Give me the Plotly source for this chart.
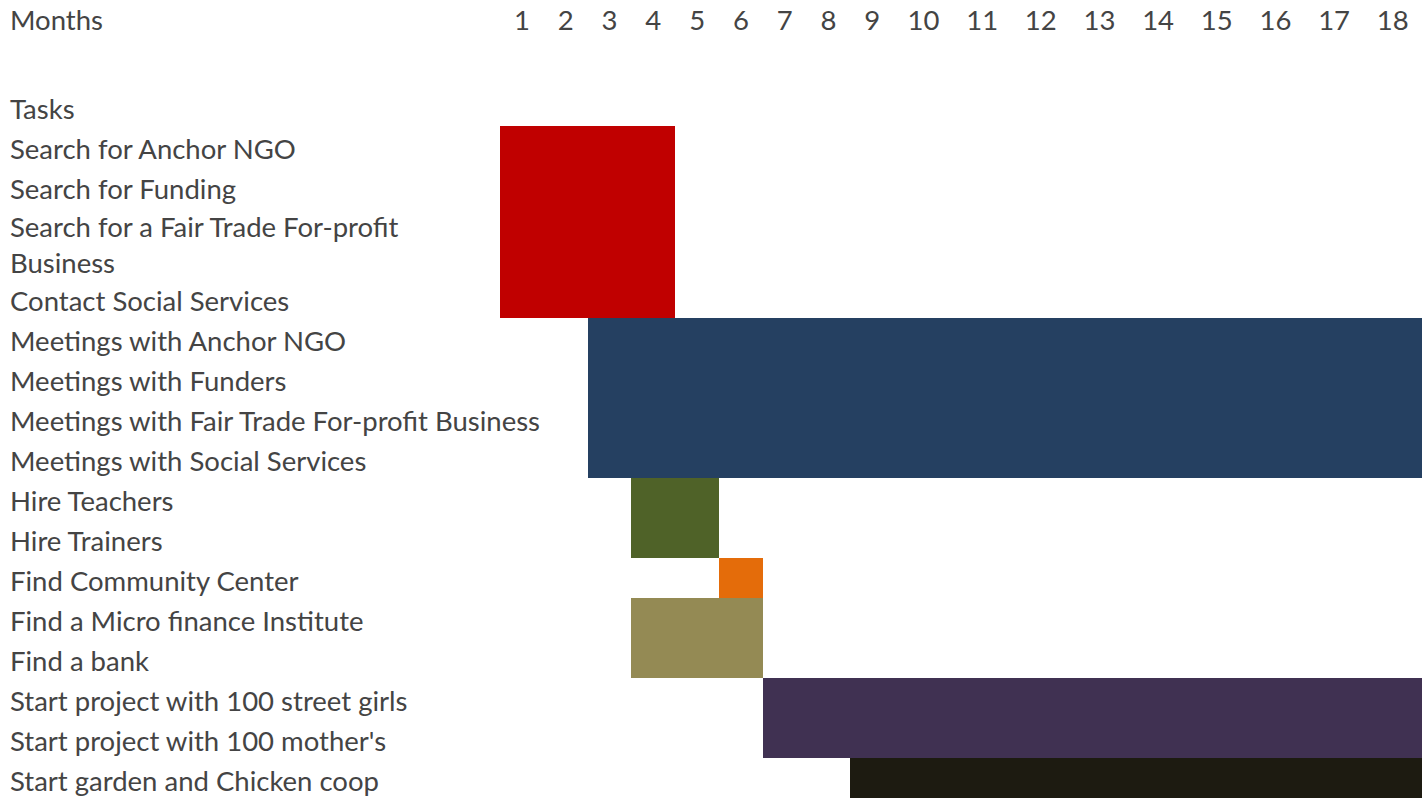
import plotly.graph_objects as go

# ---------------- data ----------------
months = [str(m) for m in range(1, 19)]

tasks = [
    "Search for Anchor NGO",
    "Search for Funding",
    "Search for a Fair Trade For-profit<br>Business",
    "Contact Social Services",
    "Meetings with Anchor NGO",
    "Meetings with Funders",
    "Meetings with Fair Trade For-profit Business",
    "Meetings with Social Services",
    "Hire Teachers",
    "Hire Trainers",
    "Find Community Center",
    "Find a Micro finance Institute",
    "Find a bank",
    "Start project with 100 street girls",
    "Start project with 100 mother's",
    "Start garden and Chicken coop",
]
start_month = [1, 1, 1, 1, 3, 3, 3, 3, 4, 4, 6, 4, 4, 7, 7, 9]
end_month = [4, 4, 4, 4, 18, 18, 18, 18, 5, 5, 6, 6, 6, 18, 18, 18]

header_labels = ["Months", "", "Tasks"]

# ---------------- styles / layout ----------------
bar_colors = [
    "#C00000", "#C00000", "#C00000", "#C00000",
    "#254061", "#254061", "#254061", "#254061",
    "#4F6228", "#4F6228",
    "#E46C0A",
    "#948A54", "#948A54",
    "#403152", "#403152",
    "#1D1B11",
]

W, H = 1424, 799
FONT = "Lato"
FSIZE = 27.5

first_col_x = 500
col_widths = [43.8] * 9 + [58.65] * 9
col_edges = [first_col_x]
for w in col_widths:
    col_edges.append(col_edges[-1] + w)
col_centers = [(col_edges[i] + col_edges[i + 1]) / 2 for i in range(len(col_widths))]

header_heights = [34, 52, 40]
task_heights = [72 if "<br>" in t else 40 for t in tasks]
row_heights = header_heights + task_heights
row_edges = [0]
for h in row_heights:
    row_edges.append(row_edges[-1] + h)
row_centers = [(row_edges[i] + row_edges[i + 1]) / 2 for i in range(len(row_heights))]
task_centers = row_centers[len(header_heights):]

LABEL_SHIFT = 3

bar_base = [col_edges[s - 1] for s in start_month]
bar_len = [col_edges[e] - col_edges[s - 1] for s, e in zip(start_month, end_month)]

fig = go.Figure(
    go.Bar(
        orientation="h",
        y=task_centers,
        x=bar_len,
        base=bar_base,
        width=task_heights,
        marker=dict(color=bar_colors, line=dict(width=0)),
        hovertext=tasks,
        showlegend=False,
    )
)

label_vals = [c + LABEL_SHIFT for c in row_centers]
label_text = header_labels + tasks

fig.update_layout(
    width=W,
    height=H,
    margin=dict(l=0, r=0, t=0, b=0),
    paper_bgcolor="white",
    plot_bgcolor="white",
    font=dict(family=FONT, size=FSIZE, color="black"),
    bargap=0,
    xaxis=dict(
        range=[0, W],
        side="top",
        tickmode="array",
        tickvals=col_centers,
        ticktext=months,
        ticklabelposition="inside",
        ticklabeloverflow="allow",
        ticklabelstandoff=8,
        ticks="",
        automargin=False,
        showgrid=False,
        zeroline=False,
        showline=False,
        fixedrange=True,
    ),
    yaxis=dict(
        range=[H, 0],
        tickmode="array",
        tickvals=label_vals,
        ticktext=label_text,
        ticklabelposition="inside",
        ticklabeloverflow="allow",
        ticklabelstandoff=7,
        ticks="",
        automargin=False,
        showgrid=False,
        zeroline=False,
        showline=False,
        fixedrange=True,
    ),
)

fig.write_html(
    "out.html",
    config={"displayModeBar": False},
    post_script="document.body.style.margin='0px';",
)
